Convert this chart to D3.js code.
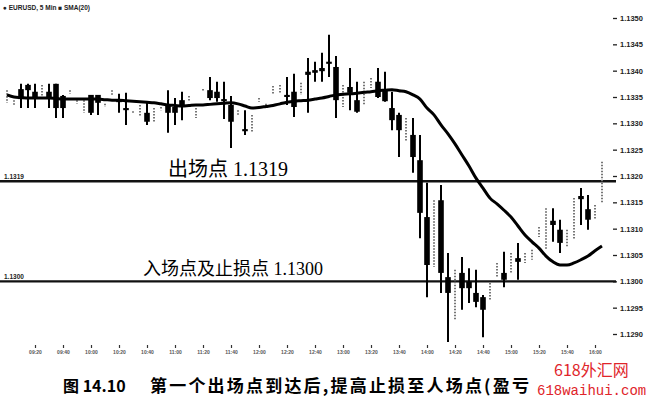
<!DOCTYPE html>
<html>
<head>
<meta charset="utf-8">
<script src="https://cdn.jsdelivr.net/npm/d3@7"></script>
<style>
  html, body { margin: 0; padding: 0; background: #fff; }
  svg { display: block; }
</style>
</head>
<body>
<svg id="chart" width="649" height="404"></svg>
<script>
// ---------------- data ----------------
const chartTitle = "● EURUSD, 5 Min   ■ SMA(20)";

const opens = [
  1.13348,1.13337,1.13365,1.13373,1.13360,1.13358,1.13360,1.13375,1.13352,1.13358,
  1.13339,1.13325,1.13354,1.13354,1.13333,1.13356,1.13344,1.13329,1.13318,1.13318,
  1.13320,1.13308,1.13325,1.13335,1.13331,1.13344,1.13344,1.13314,1.13360,1.13363,
  1.13360,1.13346,1.13335,1.13318,1.13289,1.13287,1.13342,1.13331,1.13358,1.13360,
  1.13354,1.13360,1.13358,1.13398,1.13401,1.13405,1.13417,1.13407,1.13337,1.13369,
  1.13344,1.13341,1.13371,1.13379,1.13363,1.13329,1.13316,1.13268,1.13278,1.13230,
  1.13122,1.13037,1.13154,1.13008,1.12936,1.13016,1.12999,1.12978,1.12970,1.12970,
  1.13012,1.13016,1.13022,1.13044,1.13037,1.13044,1.13088,1.13067,1.13115,1.13098,
  1.13069,1.13086,1.13162,1.13137,1.13120,1.13154
];
const highs = [
  1.13363,1.13344,1.13375,1.13375,1.13375,1.13373,1.13375,1.13375,1.13354,1.13363,
  1.13344,1.13344,1.13354,1.13354,1.13337,1.13363,1.13356,1.13358,1.13323,1.13335,
  1.13339,1.13329,1.13331,1.13363,1.13348,1.13360,1.13352,1.13329,1.13365,1.13388,
  1.13379,1.13379,1.13352,1.13325,1.13325,1.13316,1.13348,1.13337,1.13371,1.13373,
  1.13388,1.13394,1.13377,1.13424,1.13417,1.13434,1.13468,1.13428,1.13373,1.13405,
  1.13379,1.13379,1.13386,1.13405,1.13398,1.13360,1.13320,1.13310,1.13310,1.13278,
  1.13187,1.13154,1.13183,1.13054,1.13022,1.13046,1.13025,1.13022,1.12974,1.12997,
  1.13035,1.13056,1.13054,1.13073,1.13054,1.13060,1.13103,1.13139,1.13139,1.13117,
  1.13098,1.13158,1.13177,1.13164,1.13145,1.13227
];
const lows = [
  1.13339,1.13335,1.13329,1.13329,1.13329,1.13352,1.13329,1.13310,1.13310,1.13356,
  1.13337,1.13320,1.13316,1.13316,1.13331,1.13354,1.13320,1.13297,1.13318,1.13312,
  1.13297,1.13303,1.13325,1.13282,1.13297,1.13306,1.13342,1.13310,1.13360,1.13344,
  1.13341,1.13308,1.13253,1.13316,1.13278,1.13284,1.13341,1.13331,1.13356,1.13358,
  1.13335,1.13312,1.13354,1.13320,1.13379,1.13379,1.13388,1.13310,1.13331,1.13325,
  1.13320,1.13335,1.13367,1.13348,1.13341,1.13287,1.13236,1.13265,1.13206,1.13082,
  1.12970,1.13027,1.12978,1.12885,1.12927,1.12946,1.12959,1.12951,1.12894,1.12965,
  1.13008,1.12989,1.13016,1.13003,1.13035,1.13041,1.13084,1.13060,1.13075,1.13054,
  1.13065,1.13079,1.13107,1.13098,1.13117,1.13149
];
const closes = [
  1.13360,1.13342,1.13346,1.13363,1.13348,1.13367,1.13348,1.13329,1.13329,1.13361,
  1.13342,1.13339,1.13320,1.13339,1.13335,1.13361,1.13341,1.13325,1.13322,1.13331,
  1.13303,1.13325,1.13329,1.13320,1.13320,1.13333,1.13350,1.13325,1.13363,1.13348,
  1.13348,1.13342,1.13303,1.13323,1.13285,1.13312,1.13346,1.13335,1.13367,1.13369,
  1.13350,1.13331,1.13373,1.13392,1.13396,1.13399,1.13413,1.13344,1.13367,1.13358,
  1.13322,1.13373,1.13382,1.13350,1.13342,1.13306,1.13287,1.13306,1.13236,1.13130,
  1.13031,1.13145,1.13016,1.12978,1.13012,1.12987,1.12987,1.12961,1.12946,1.12993,
  1.13031,1.13003,1.13048,1.13037,1.13050,1.13056,1.13099,1.13132,1.13107,1.13073,
  1.13094,1.13151,1.13156,1.13117,1.13141,1.13221
];
const sma20 = [
  1.13354,1.13350,1.13349,1.13348,1.13348,1.13348,1.13348,1.13347,1.13346,1.13346,
  1.13346,1.13346,1.13346,1.13346,1.13345,1.13344,1.13344,1.13343,1.13342,1.13341,
  1.13340,1.13339,1.13337,1.13335,1.13334,1.13333,1.13334,1.13335,1.13335,1.13336,
  1.13337,1.13338,1.13339,1.13337,1.13333,1.13329,1.13330,1.13332,1.13334,1.13337,
  1.13340,1.13342,1.13343,1.13344,1.13346,1.13348,1.13351,1.13354,1.13355,1.13356,
  1.13357,1.13359,1.13360,1.13362,1.13363,1.13364,1.13362,1.13360,1.13354,1.13346,
  1.13329,1.13316,1.13297,1.13280,1.13261,1.13240,1.13219,1.13196,1.13177,1.13158,
  1.13147,1.13135,1.13122,1.13105,1.13088,1.13075,1.13063,1.13048,1.13037,1.13031,
  1.13031,1.13035,1.13041,1.13048,1.13058,1.13067
];

const yTicks = [1.1290,1.1295,1.1300,1.1305,1.1310,1.1315,1.1320,1.1325,1.1330,1.1335,1.1340,1.1345,1.1350];
const xTickIndex = [4,8,12,16,20,24,28,32,36,40,44,48,52,56,60,64,68,72,76,80,84];
const xTickLabels = ["09:20","09:40","10:00","10:20","10:40","11:00","11:20","11:40","12:00","12:20",
                     "12:40","13:00","13:20","13:40","14:00","14:20","14:40","15:00","15:20","15:40","16:00"];

const levels = [1.1319, 1.1300];
const levelTags = ["1.1319", "1.1300"];
const levelNotes = ["出场点 1.1319", "入场点及止损点 1.1300"];

const captionFig = "图 14.10";
const captionText = "第一个出场点到达后,提高止损至人场点(盈亏";
const watermark = ["618外汇网", "618waihui.com"];

// ---------------- drawing ----------------
const svg = d3.select("#chart");
svg.append("rect").attr("width", 649).attr("height", 404).attr("fill", "#fff");

const x = d3.scaleLinear().domain([0, opens.length - 1]).range([7, 602]);
const y = d3.scaleLinear().domain([1.1290, 1.1350]).range([334, 18]);

// title
svg.append("text").attr("x", 3).attr("y", 10)
  .attr("font-family", "Liberation Sans, Arial, sans-serif")
  .attr("font-size", 6.5).attr("font-weight", "bold").attr("fill", "#222")
  .text(chartTitle);

// right axis
const yAx = svg.append("g").attr("transform", "translate(613,0)")
  .call(d3.axisRight(y).tickValues(yTicks).tickFormat(d3.format(".4f")).tickSize(4).tickPadding(3));
yAx.select(".domain").remove();
yAx.selectAll("line").attr("stroke", "#222").attr("stroke-width", 1.3);
yAx.selectAll("text").attr("font-family", "Liberation Sans, Arial, sans-serif")
  .attr("font-size", 7.5).attr("font-weight", "bold").attr("fill", "#222");

// bottom axis
const xAx = svg.append("g").attr("transform", "translate(0,345)")
  .call(d3.axisBottom(x).tickValues(xTickIndex).tickFormat((d, i) => xTickLabels[i]).tickSize(3).tickPadding(2));
xAx.select(".domain").remove();
xAx.selectAll("line").attr("stroke", "#333").attr("stroke-width", 1.2);
xAx.selectAll("text").attr("font-family", "Liberation Sans, Arial, sans-serif")
  .attr("font-size", 5).attr("font-weight", "bold").attr("fill", "#555");

// level lines
levels.forEach((lv, k) => {
  svg.append("line").attr("x1", 0).attr("x2", 616)
    .attr("y1", y(lv)).attr("y2", y(lv))
    .attr("stroke", "#111").attr("stroke-width", 2.4);
  svg.append("text").attr("x", 4).attr("y", y(lv) - 2)
    .attr("font-family", "Liberation Sans, Arial, sans-serif")
    .attr("font-size", 6.5).attr("font-weight", "bold").attr("fill", "#222")
    .text(levelTags[k]);
});

// candles
const idx = d3.range(opens.length);
const up = i => closes[i] > opens[i];

const g = svg.append("g");
// faint (up) candles
g.selectAll("line.fw").data(idx.filter(up)).join("line").attr("class", "fw")
  .attr("x1", i => x(i)).attr("x2", i => x(i))
  .attr("y1", i => y(highs[i])).attr("y2", i => y(lows[i]))
  .attr("stroke", "#777").attr("stroke-width", 2).attr("stroke-dasharray", "1.5,1.5");
// dark (down) candles
const dn = idx.filter(i => !up(i));
g.selectAll("line.dw").data(dn).join("line").attr("class", "dw")
  .attr("x1", i => x(i)).attr("x2", i => x(i))
  .attr("y1", i => y(highs[i])).attr("y2", i => y(lows[i]))
  .attr("stroke", "#000").attr("stroke-width", 2);
g.selectAll("rect.db").data(dn).join("rect").attr("class", "db")
  .attr("x", i => x(i) - 2.8).attr("width", 5.6)
  .attr("y", i => y(opens[i]))
  .attr("height", i => Math.max(2, y(closes[i]) - y(opens[i])))
  .attr("fill", "#000");

// SMA line
svg.append("path").datum(sma20)
  .attr("d", d3.line().x((d, i) => x(i)).y(d => y(d)).curve(d3.curveMonotoneX))
  .attr("fill", "none").attr("stroke", "#000").attr("stroke-width", 3);

// level notes
const noteX = [168, 143];
const noteSize = [20, 18];
const noteDy = [5, 6];
levels.forEach((lv, k) => {
  svg.append("text").attr("x", noteX[k]).attr("y", y(lv) - noteDy[k])
    .attr("font-family", "Liberation Serif, 'Noto Sans CJK SC', serif")
    .attr("font-size", noteSize[k]).attr("fill", "#000")
    .text(levelNotes[k]);
});

// caption
svg.append("text").attr("x", 63).attr("y", 392)
  .attr("font-family", "'Noto Sans CJK SC', sans-serif").attr("font-weight", "bold")
  .attr("font-size", 16).attr("fill", "#000").text(captionFig);
svg.append("text").attr("x", 150).attr("y", 392)
  .attr("font-family", "'Noto Sans CJK SC', sans-serif").attr("font-weight", "bold")
  .attr("font-size", 17).attr("letter-spacing", 2.2).attr("fill", "#000").text(captionText);

// watermark
svg.append("rect").attr("x", 534).attr("y", 378).attr("width", 115).attr("height", 22).attr("fill", "#fff");
svg.append("text").attr("x", 554).attr("y", 376)
  .attr("font-family", "'Noto Sans CJK SC', sans-serif")
  .attr("font-size", 16).attr("fill", "#e0242a").text(watermark[0]);
svg.append("text").attr("x", 537).attr("y", 395)
  .attr("font-family", "'Liberation Mono', monospace")
  .attr("font-size", 14).attr("fill", "#e0242a").text(watermark[1]);
</script>
</body>
</html>
